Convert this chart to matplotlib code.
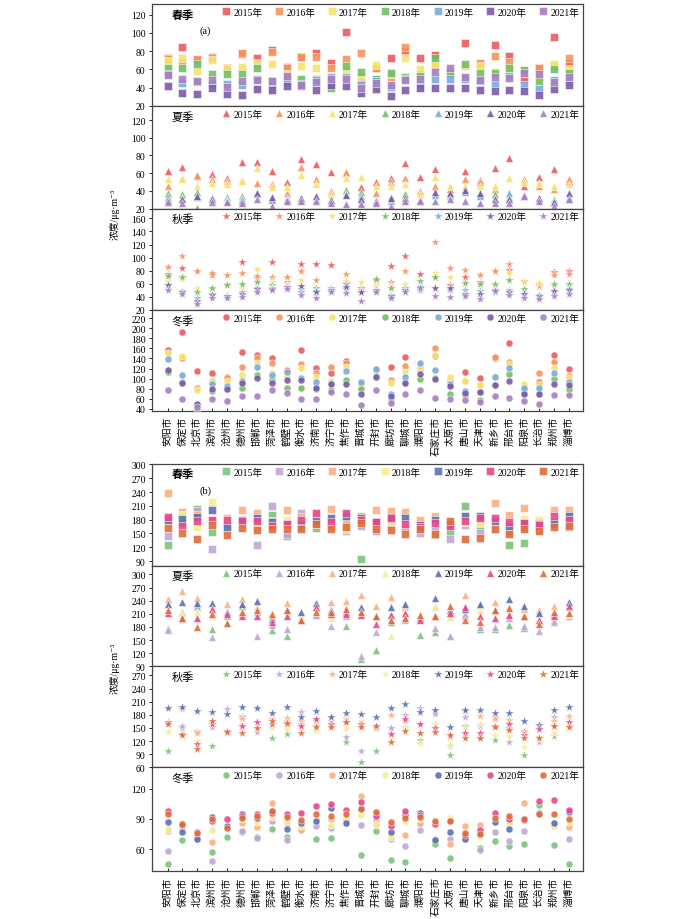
import matplotlib
matplotlib.use("Agg")
import matplotlib.pyplot as plt

plt.rcParams['font.family'] = ['Liberation Serif', 'Noto Sans CJK SC', 'DejaVu Sans']

# ---- data ----
cities = ["安阳市", "保定市", "北京市", "滨州市", "沧州市", "德州市", "邯郸市", "菏泽市",
          "鹤壁市", "衡水市", "济南市", "济宁市", "焦作市", "晋城市", "开封市", "廊坊市",
          "聊城市", "濮阳市", "石家庄市", "太原市", "唐山市", "天津市", "新乡市", "邢台市",
          "阳泉市", "长治市", "郑州市", "淄博市"]
years = ["2015年", "2016年", "2017年", "2018年", "2019年", "2020年", "2021年"]
seasons = ["春季", "夏季", "秋季", "冬季"]

# (a)
a_spring = [
    [73, 85, 70, 74, 62, 77, 72, 81, 63, 74, 78, 67, 101, 46, 61, 73, 80, 73, 76, 56, 89, 66, 87, 75, 49, 62, 95, 67],
    [71, 68, 71, 73, 62, 78, 67, 79, 62, 74, 74, 61, 71, 78, 62, 52, 84, 55, 64, 55, 64, 67, 75, 68, 56, 62, 64, 73],
    [69, 72, 58, 70, 60, 63, 66, 66, 55, 64, 61, 50, 60, 53, 65, 55, 72, 60, 67, 57, 64, 64, 57, 59, 58, 52, 66, 60],
    [62, 61, 66, 55, 55, 55, 61, 47, 50, 50, 49, 40, 64, 57, 50, 56, 52, 53, 72, 56, 66, 56, 56, 62, 59, 47, 60, 56],
    [55, 45, 46, 45, 44, 43, 50, 44, 47, 44, 48, 52, 52, 43, 47, 41, 49, 44, 50, 50, 50, 47, 44, 53, 43, 39, 48, 50],
    [42, 34, 33, 40, 33, 32, 39, 38, 42, 42, 38, 43, 42, 34, 39, 31, 38, 40, 40, 40, 40, 38, 36, 38, 36, 32, 39, 43],
    [54, 49, 47, 48, 41, 47, 48, 47, 53, 43, 46, 49, 50, 40, 45, 43, 48, 49, 57, 61, 52, 48, 52, 51, 56, 55, 46, 52],
]
a_summer = [
    [62, 67, 57, 59, 55, 73, 73, 63, 50, 76, 70, 61, 60, 44, 50, 55, 71, 56, 65, 42, 62, 52, 66, 77, 45, 56, 65, 51],
    [46, 55, 58, 53, 51, 52, 49, 48, 38, 67, 53, 40, 61, 27, 38, 50, 55, 40, 46, 42, 53, 50, 42, 30, 53, 45, 42, 53],
    [53, 53, 45, 49, 48, 51, 66, 44, 44, 58, 48, 36, 55, 56, 45, 45, 48, 36, 56, 46, 45, 46, 45, 54, 50, 49, 45, 48],
    [37, 36, 39, 33, 33, 34, 36, 31, 31, 31, 31, 31, 41, 39, 30, 33, 36, 29, 36, 36, 41, 36, 36, 33, 35, 31, 31, 31],
    [33, 32, 33, 32, 30, 31, 38, 30, 32, 30, 30, 29, 36, 34, 29, 29, 30, 30, 35, 34, 39, 34, 31, 38, 34, 30, 29, 33],
    [30, 31, 34, 31, 29, 29, 37, 33, 30, 32, 34, 30, 35, 31, 28, 32, 32, 30, 39, 37, 41, 38, 31, 31, 35, 32, 27, 37],
    [27, 26, 21, 27, 27, 26, 31, 23, 29, 28, 28, 26, 25, 25, 26, 23, 29, 28, 29, 31, 28, 26, 26, 26, 34, 28, 23, 31],
]
a_autumn = [
    [75, 84, 80, 74, 60, 94, 69, 94, 63, 91, 91, 88, 61, 53, 64, 87, 102, 75, 71, 58, 71, 62, 80, 81, 62, 56, 78, 80],
    [86, 103, 80, 76, 74, 76, 72, 70, 70, 79, 66, 49, 75, 50, 66, 63, 79, 55, 124, 84, 81, 74, 79, 91, 65, 58, 73, 75],
    [65, 68, 53, 52, 58, 53, 82, 63, 60, 66, 52, 48, 65, 62, 56, 56, 59, 55, 76, 70, 61, 56, 58, 76, 62, 61, 56, 57],
    [72, 70, 47, 53, 58, 59, 62, 58, 55, 52, 54, 49, 60, 48, 67, 54, 53, 64, 70, 53, 61, 60, 60, 66, 52, 43, 60, 59],
    [58, 49, 39, 44, 41, 47, 53, 53, 55, 48, 49, 54, 52, 47, 48, 43, 49, 51, 53, 50, 51, 49, 48, 50, 44, 41, 47, 52],
    [58, 48, 34, 43, 41, 44, 52, 52, 55, 56, 47, 50, 55, 47, 50, 41, 50, 55, 53, 53, 44, 44, 50, 47, 44, 42, 49, 51],
    [50, 44, 29, 38, 39, 40, 48, 50, 52, 43, 39, 47, 46, 34, 48, 38, 47, 53, 41, 40, 41, 37, 49, 43, 38, 37, 41, 44],
]
a_winter = [
    [157, 192, 115, 112, 104, 153, 146, 140, 116, 156, 121, 111, 135, 86, 118, 124, 142, 120, 144, 95, 113, 102, 141, 170, 75, 93, 146, 119],
    [150, 141, 82, 95, 102, 124, 140, 132, 117, 129, 111, 123, 131, 87, 118, 98, 126, 123, 161, 92, 96, 87, 142, 134, 78, 111, 134, 105],
    [150, 144, 78, 96, 96, 108, 131, 111, 106, 121, 103, 95, 124, 90, 116, 91, 113, 124, 146, 104, 96, 87, 106, 129, 90, 90, 121, 101],
    [114, 94, 40, 75, 80, 81, 108, 98, 82, 82, 80, 78, 98, 80, 105, 60, 91, 100, 102, 70, 67, 57, 88, 110, 72, 70, 100, 80],
    [139, 108, 48, 89, 86, 96, 123, 108, 113, 102, 93, 91, 116, 94, 119, 70, 103, 131, 117, 90, 75, 73, 104, 121, 82, 82, 111, 94],
    [118, 92, 50, 79, 80, 92, 101, 92, 98, 98, 82, 90, 90, 70, 104, 65, 92, 110, 100, 85, 72, 73, 88, 95, 69, 69, 90, 88],
    [78, 59, 44, 59, 56, 66, 66, 77, 72, 60, 59, 73, 69, 48, 78, 52, 70, 78, 62, 60, 57, 54, 65, 62, 56, 50, 68, 68],
]

# (b)
b_spring = [
    [124, 175, 204, 154, 170, 168, 165, 191, 144, 165, 162, 170, 168, 95, 165, 175, 165, 160, 147, 153, 209, 165, 160, 126, 130, 160, 170, 170],
    [144, 195, 199, 117, 170, 175, 125, 209, 149, 194, 170, 167, 155, 166, 155, 171, 162, 152, 162, 139, 168, 150, 165, 154, 165, 165, 170, 165],
    [238, 196, 191, 178, 183, 200, 194, 178, 200, 186, 188, 204, 176, 189, 200, 198, 197, 180, 188, 170, 180, 178, 217, 191, 206, 180, 200, 200],
    [171, 191, 165, 219, 175, 170, 167, 170, 179, 175, 184, 180, 160, 175, 170, 178, 175, 165, 175, 170, 175, 173, 167, 170, 181, 177, 175, 180],
    [179, 182, 186, 200, 164, 180, 184, 175, 170, 171, 178, 184, 188, 184, 175, 186, 184, 168, 179, 170, 189, 188, 177, 167, 172, 170, 173, 189],
    [186, 167, 178, 180, 180, 177, 177, 167, 170, 180, 194, 176, 195, 180, 175, 183, 171, 165, 172, 166, 177, 184, 183, 176, 172, 168, 189, 179],
    [162, 152, 139, 168, 146, 162, 157, 159, 160, 160, 171, 160, 165, 173, 160, 157, 149, 159, 149, 177, 137, 140, 159, 149, 160, 155, 165, 167],
]
b_summer = [
    [178, 215, 225, 176, 205, 227, 215, 173, 159, 200, 210, 210, 181, 107, 128, 192, 200, 162, 168, 159, 206, 176, 176, 185, 177, 195, 195, 225],
    [173, 198, 229, 157, 189, 210, 160, 185, 176, 200, 208, 183, 205, 114, 168, 210, 195, 200, 178, 160, 210, 180, 179, 200, 183, 170, 192, 204],
    [243, 262, 246, 220, 233, 243, 225, 205, 235, 205, 225, 237, 240, 252, 229, 248, 225, 205, 225, 215, 253, 230, 237, 225, 222, 218, 229, 230],
    [215, 210, 214, 205, 215, 215, 218, 215, 210, 205, 215, 200, 215, 210, 205, 159, 215, 205, 229, 202, 222, 218, 215, 215, 205, 200, 210, 210],
    [233, 237, 234, 235, 215, 233, 239, 198, 218, 214, 234, 218, 215, 225, 205, 225, 233, 200, 246, 218, 222, 233, 218, 243, 227, 212, 210, 237],
    [212, 200, 200, 221, 210, 206, 204, 192, 206, 196, 225, 210, 210, 208, 187, 208, 211, 195, 205, 212, 225, 206, 200, 208, 206, 195, 205, 229],
    [218, 200, 179, 210, 189, 215, 218, 210, 218, 196, 214, 214, 221, 214, 205, 195, 200, 208, 206, 229, 195, 191, 219, 223, 206, 187, 215, 212],
]
b_autumn = [
    [97, 149, 144, 108, 140, 178, 150, 127, 136, 160, 155, 155, 117, 72, 98, 150, 152, 123, 150, 89, 155, 126, 123, 150, 87, 130, 131, 155],
    [160, 155, 140, 152, 194, 175, 140, 165, 165, 186, 170, 165, 129, 97, 149, 149, 180, 195, 182, 108, 175, 155, 175, 117, 140, 119, 175, 155],
    [160, 194, 139, 165, 140, 171, 150, 170, 172, 165, 165, 176, 171, 160, 155, 180, 165, 160, 159, 130, 188, 178, 170, 169, 142, 130, 165, 177],
    [140, 131, 120, 160, 139, 160, 150, 149, 148, 150, 142, 155, 148, 166, 155, 125, 150, 115, 160, 110, 150, 160, 135, 131, 107, 125, 139, 152],
    [195, 197, 188, 186, 181, 197, 195, 184, 197, 175, 188, 175, 185, 182, 176, 195, 204, 186, 190, 152, 191, 191, 185, 184, 167, 157, 192, 197],
    [163, 137, 114, 159, 144, 155, 163, 159, 159, 154, 171, 159, 163, 158, 155, 136, 171, 159, 149, 134, 139, 139, 155, 159, 134, 148, 155, 163],
    [158, 135, 102, 167, 140, 139, 149, 167, 161, 139, 152, 152, 163, 152, 155, 117, 142, 139, 140, 134, 126, 126, 152, 146, 126, 127, 155, 153],
]
b_winter = [
    [46, 69, 70, 57, 72, 77, 72, 80, 72, 80, 70, 71, 86, 54, 78, 50, 48, 85, 65, 52, 70, 61, 68, 63, 65, 104, 64, 46],
    [58, 81, 72, 49, 80, 78, 71, 88, 69, 82, 83, 81, 88, 84, 88, 70, 63, 79, 70, 70, 72, 59, 77, 68, 78, 95, 83, 70],
    [78, 84, 76, 67, 81, 86, 82, 106, 86, 79, 90, 90, 90, 113, 84, 74, 74, 86, 85, 65, 83, 84, 90, 88, 106, 95, 85, 82],
    [80, 86, 76, 79, 82, 90, 87, 92, 88, 83, 91, 84, 93, 94, 85, 72, 88, 90, 84, 91, 74, 73, 90, 85, 90, 96, 83, 87],
    [87, 77, 70, 92, 83, 95, 91, 98, 80, 86, 88, 101, 86, 101, 95, 77, 94, 96, 69, 77, 70, 76, 87, 80, 90, 96, 86, 97],
    [98, 84, 77, 88, 90, 93, 95, 96, 95, 96, 103, 105, 99, 107, 93, 83, 98, 94, 85, 88, 74, 79, 96, 90, 89, 108, 109, 99],
    [95, 85, 76, 90, 81, 91, 93, 98, 92, 89, 95, 93, 95, 100, 97, 87, 91, 92, 88, 88, 76, 75, 91, 93, 90, 95, 95, 90],
]

colors_a = ["#ee5a5e", "#f7955c", "#f6e46a", "#71bf60", "#78aade", "#7a5aa8", "#a87fc0"]
colors_b = ["#7cc47a", "#c0a6d6", "#fbb183", "#f3ee92", "#5a70b2", "#e8468a", "#e06c3c"]

markers = ["s", "^", "*", "o"]
msizes = [26, 32, 50, 26]


def draw_panel(fig, rect, data, ylim, yticks, season, colors, marker, ms, bottom=False, tag=None):
    ax = fig.add_axes(rect)
    x = list(range(len(cities)))
    for k in range(len(years)):
        ax.scatter(x, data[k], s=ms, marker=marker, color=colors[k], alpha=0.9,
                   edgecolors="white", linewidths=0.4, label=years[k], zorder=3 + k)
    ax.set_xlim(-1.05, 27.95)
    ax.set_ylim(*ylim)
    ax.set_yticks(yticks)
    ax.tick_params(axis="y", direction="out", length=2.5, width=0.6, labelsize=7, pad=2)
    for sp in ax.spines.values():
        sp.set_color("#444444")
        sp.set_linewidth(0.9)
    ax.set_xticks(x)
    if bottom:
        ax.set_xticklabels(cities, fontsize=7, rotation=90, va="top", ha="center")
        ax.tick_params(axis="x", direction="in", length=2.5, width=0.6, pad=4)
    else:
        ax.tick_params(axis="x", length=0, labelbottom=False)
    ax.text(0.045, 0.9, season, transform=ax.transAxes, fontsize=8, va="center",
            ha="left", fontweight="bold" if season == "春季" else "normal")
    if tag:
        ax.text(0.11, 0.74, tag, transform=ax.transAxes, fontsize=7.5, va="center")
    ax.legend(loc="upper right", ncol=7, frameon=False, fontsize=7, handletextpad=0.25,
              columnspacing=1.2, handlelength=1.0, borderaxespad=0.25, borderpad=0.1,
              scatteryoffsets=[0.5])
    return ax


fig = plt.figure(figsize=(7, 9.2), dpi=100)
left, width = 152 / 700, (583 - 152) / 700
H = 920.0

edges_a = [5, 107, 209.5, 311, 411.5]
edges_b = [465, 566.7, 667.3, 768.3, 871.7]

ylims_a = [(20, 131.5), (20, 136), (20, 175), (37, 236)]
yticks_a = [range(20, 121, 20), range(20, 121, 20), range(20, 161, 20), range(40, 221, 20)]
ylims_b = [(80, 301), (90, 320), (60, 291), (39, 141)]
yticks_b = [range(90, 301, 30), range(90, 301, 30), range(60, 271, 30), [60, 90, 120]]

data_a = [a_spring, a_summer, a_autumn, a_winter]
data_b = [b_spring, b_summer, b_autumn, b_winter]

for i in range(4):
    rect = [left, 1 - edges_a[i + 1] / H, width, (edges_a[i + 1] - edges_a[i]) / H]
    draw_panel(fig, rect, data_a[i], ylims_a[i], yticks_a[i], seasons[i], colors_a,
               markers[i], msizes[i], bottom=(i == 3), tag="(a)" if i == 0 else None)
for i in range(4):
    rect = [left, 1 - edges_b[i + 1] / H, width, (edges_b[i + 1] - edges_b[i]) / H]
    draw_panel(fig, rect, data_b[i], ylims_b[i], yticks_b[i], seasons[i], colors_b,
               markers[i], msizes[i], bottom=(i == 3), tag="(b)" if i == 0 else None)

ylab = "浓度/μg·m⁻³"
fig.text(115 / 700, 1 - 214 / H, ylab, rotation=90, ha="center", va="center", fontsize=7)
fig.text(115 / 700, 1 - 668 / H, ylab, rotation=90, ha="center", va="center", fontsize=7)

fig.savefig("out.png", dpi=100)
